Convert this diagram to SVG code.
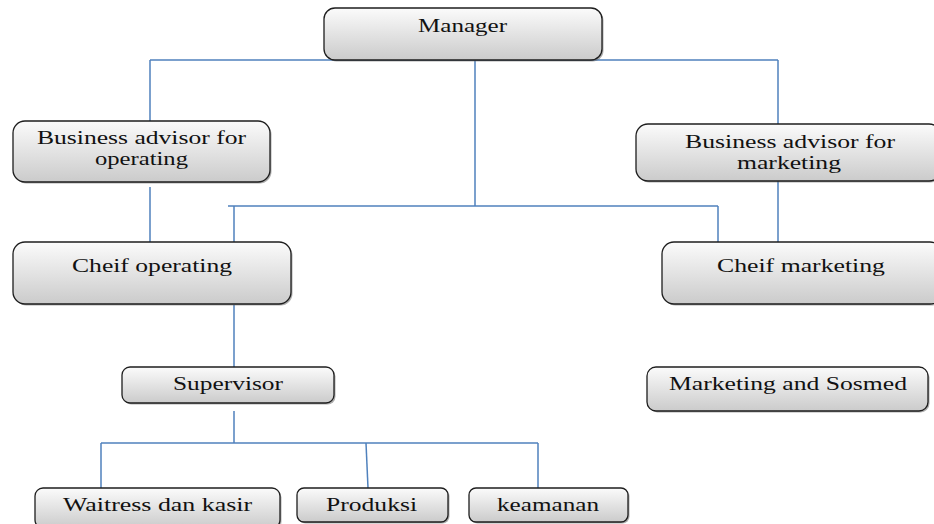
<svg xmlns="http://www.w3.org/2000/svg" width="934" height="524" viewBox="0 0 934 524">
<defs>
<linearGradient id="g" x1="0" y1="0" x2="0" y2="1">
<stop offset="0" stop-color="#fbfbfb"/>
<stop offset="1" stop-color="#cbcbcb"/>
</linearGradient>
</defs>
<style>
.box{fill:url(#g);stroke:#1e1e1e;stroke-width:1.3}
.sh{fill:#6a6a6a;opacity:0.55}
.t{font-family:"Liberation Serif","Times New Roman",serif;font-size:18px;fill:#111}
.c{fill:none;stroke:#4f81bd;stroke-width:1.5}
</style>
<rect width="934" height="524" fill="#ffffff"/>
<g id="connectors">
<path class="c" d="M150 60H778"/>
<path class="c" d="M150 60V121"/>
<path class="c" d="M778 60V124"/>
<path class="c" d="M475 60V206"/>
<path class="c" d="M228 206H718"/>
<path class="c" d="M234 206V242"/>
<path class="c" d="M718 206V242"/>
<path class="c" d="M150 187V242"/>
<path class="c" d="M778 181V242"/>
<path class="c" d="M234 305V367"/>
<path class="c" d="M234 411V443"/>
<path class="c" d="M101 443H538"/>
<path class="c" d="M101 443V488"/>
<path class="c" d="M366 443L368 488"/>
<path class="c" d="M538 443V488"/>
</g>
<g id="manager">
<rect class="sh" x="325.5" y="9.5" width="278" height="52" rx="11"/>
<rect class="box" x="324" y="8" width="278" height="52" rx="11"/>
<text class="t" x="418" y="32" textLength="89" lengthAdjust="spacingAndGlyphs">Manager</text>
</g>
<g id="ba-operating">
<rect class="sh" x="14.5" y="122.5" width="257" height="61" rx="12"/>
<rect class="box" x="13" y="121" width="257" height="61" rx="12"/>
<text class="t" x="37" y="144" textLength="209" lengthAdjust="spacingAndGlyphs">Business advisor for</text>
<text class="t" x="95" y="165" textLength="93" lengthAdjust="spacingAndGlyphs">operating</text>
</g>
<g id="ba-marketing">
<rect class="sh" x="637.5" y="125.5" width="305" height="57" rx="12"/>
<rect class="box" x="636" y="124" width="305" height="57" rx="12"/>
<text class="t" x="685" y="148" textLength="210" lengthAdjust="spacingAndGlyphs">Business advisor for</text>
<text class="t" x="737" y="169" textLength="104" lengthAdjust="spacingAndGlyphs">marketing</text>
</g>
<g id="cheif-operating">
<rect class="sh" x="14.5" y="243.5" width="278" height="62" rx="12"/>
<rect class="box" x="13" y="242" width="278" height="62" rx="12"/>
<text class="t" x="72" y="272" textLength="160" lengthAdjust="spacingAndGlyphs">Cheif operating</text>
</g>
<g id="cheif-marketing">
<rect class="sh" x="663.5" y="243.5" width="280" height="62" rx="12"/>
<rect class="box" x="662" y="242" width="280" height="62" rx="12"/>
<text class="t" x="717" y="272" textLength="168" lengthAdjust="spacingAndGlyphs">Cheif marketing</text>
</g>
<g id="supervisor">
<rect class="sh" x="123.5" y="368.5" width="212" height="36" rx="8"/>
<rect class="box" x="122" y="367" width="212" height="36" rx="8"/>
<text class="t" x="173" y="390" textLength="110" lengthAdjust="spacingAndGlyphs">Supervisor</text>
</g>
<g id="marketing-sosmed">
<rect class="sh" x="648.5" y="368.5" width="281" height="44" rx="9"/>
<rect class="box" x="647" y="367" width="281" height="44" rx="9"/>
<text class="t" x="669" y="390" textLength="238" lengthAdjust="spacingAndGlyphs">Marketing and Sosmed</text>
</g>
<g id="waitress">
<rect class="sh" x="36.5" y="489.5" width="245" height="40" rx="8"/>
<rect class="box" x="35" y="488" width="245" height="40" rx="8"/>
<text class="t" x="63" y="511" textLength="189" lengthAdjust="spacingAndGlyphs">Waitress dan kasir</text>
</g>
<g id="produksi">
<rect class="sh" x="298.5" y="489.5" width="151" height="34" rx="7"/>
<rect class="box" x="297" y="488" width="151" height="34" rx="7"/>
<text class="t" x="326" y="511" textLength="91" lengthAdjust="spacingAndGlyphs">Produksi</text>
</g>
<g id="keamanan">
<rect class="sh" x="470.5" y="489.5" width="159" height="34" rx="7"/>
<rect class="box" x="469" y="488" width="159" height="34" rx="7"/>
<text class="t" x="497" y="511" textLength="102" lengthAdjust="spacingAndGlyphs">keamanan</text>
</g>
</svg>
